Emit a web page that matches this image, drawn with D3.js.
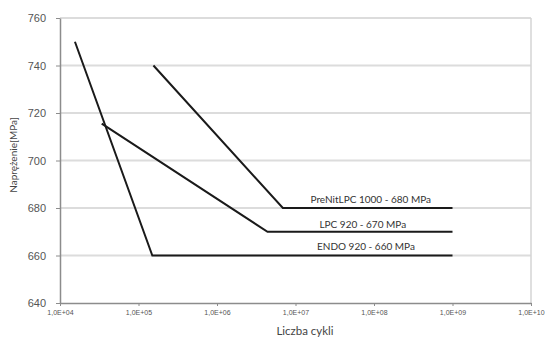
<!DOCTYPE html>
<html>
<head>
<meta charset="utf-8">
<script src="https://cdn.jsdelivr.net/npm/d3@7"></script>
<style>
  body { margin: 0; background: #fff; }
  svg { display: block; font-family: Lato, "Open Sans", sans-serif; }
</style>
</head>
<body>
<svg id="chart" width="546" height="340"></svg>
<script>
// S-N curves (cycles, stress)
const endo = [[1.55e4, 750], [1.5e5, 660], [1e9, 660]];
const lpc = [[3.4e4, 715.5], [4.4e6, 670], [1e9, 670]];
const prenit = [[1.55e5, 740], [6.9e6, 680], [1e9, 680]];

const seriesNames = ['ENDO 920 - 660 MPa', 'LPC 920 - 670 MPa', 'PreNitLPC 1000 - 680 MPa'];
const xTicks = [1e4, 1e5, 1e6, 1e7, 1e8, 1e9, 1e10];
const yTicks = [640, 660, 680, 700, 720, 740, 760];

const svg = d3.select('#chart');
const margin = { top: 18, right: 15, bottom: 37, left: 60 };
const width = 546, height = 340;

const x = d3.scaleLog()
  .domain([1e4, 1e10])
  .range([margin.left, width - margin.right]);

const y = d3.scaleLinear()
  .domain([640, 760])
  .range([height - margin.bottom, margin.top]);

// gridlines
svg.append('g')
  .selectAll('line')
  .data(yTicks.slice(1))
  .enter()
  .append('line')
  .attr('x1', margin.left)
  .attr('x2', width - margin.right)
  .attr('y1', d => y(d))
  .attr('y2', d => y(d))
  .attr('stroke', '#dcdcdc')
  .attr('stroke-width', 2);

// right border
svg.append('line')
  .attr('x1', width - margin.right)
  .attr('x2', width - margin.right)
  .attr('y1', margin.top)
  .attr('y2', height - margin.bottom)
  .attr('stroke', '#d4d4d4')
  .attr('stroke-width', 1.5);

const fmt = d => '1,0E+' + String(Math.round(Math.log10(d))).padStart(2, '0');

const xAxis = svg.append('g')
  .attr('transform', `translate(0,${height - margin.bottom})`)
  .call(d3.axisBottom(x).tickValues(xTicks).tickFormat(fmt).tickSize(3).tickSizeOuter(0));
xAxis.select('.domain').attr('stroke', '#8c8c8c').attr('stroke-width', 1.5);
xAxis.selectAll('.tick line').attr('stroke', '#8c8c8c');
xAxis.selectAll('text').attr('font-size', 7).attr('fill', '#555').attr('dy', '0.9em');

const yAxis = svg.append('g')
  .attr('transform', `translate(${margin.left},0)`)
  .call(d3.axisLeft(y).tickValues(yTicks).tickSize(4).tickSizeOuter(0));
yAxis.select('.domain').attr('stroke', '#8c8c8c').attr('stroke-width', 1.5);
yAxis.selectAll('.tick line').attr('stroke', '#8c8c8c');
yAxis.selectAll('text').attr('font-size', 11).attr('fill', '#555').attr('x', -14);

// axis titles
svg.append('text')
  .attr('x', 305)
  .attr('y', 335)
  .attr('text-anchor', 'middle')
  .attr('font-size', 11.5)
  .attr('fill', '#444')
  .text('Liczba cykli');

svg.append('text')
  .attr('transform', 'translate(17,155) rotate(-90)')
  .attr('text-anchor', 'middle')
  .attr('font-size', 10)
  .attr('fill', '#444')
  .text('Naprężenie[MPa]');

// curves
const line = d3.line().x(d => x(d[0])).y(d => y(d[1]));
[endo, lpc, prenit].forEach(s => {
  svg.append('path')
    .attr('d', line(s))
    .attr('fill', 'none')
    .attr('stroke', '#1a1a1a')
    .attr('stroke-width', 2);
});

// series labels
const labelPos = [[7.9e7, 660, -5.5], [7.2e7, 670, -4], [9.1e7, 680, -5]];
seriesNames.forEach((name, i) => {
  svg.append('text')
    .attr('x', x(labelPos[i][0]))
    .attr('y', y(labelPos[i][1]) + labelPos[i][2])
    .attr('text-anchor', 'middle')
    .attr('font-size', 10)
    .attr('fill', '#333')
    .text(name);
});
</script>
</body>
</html>
